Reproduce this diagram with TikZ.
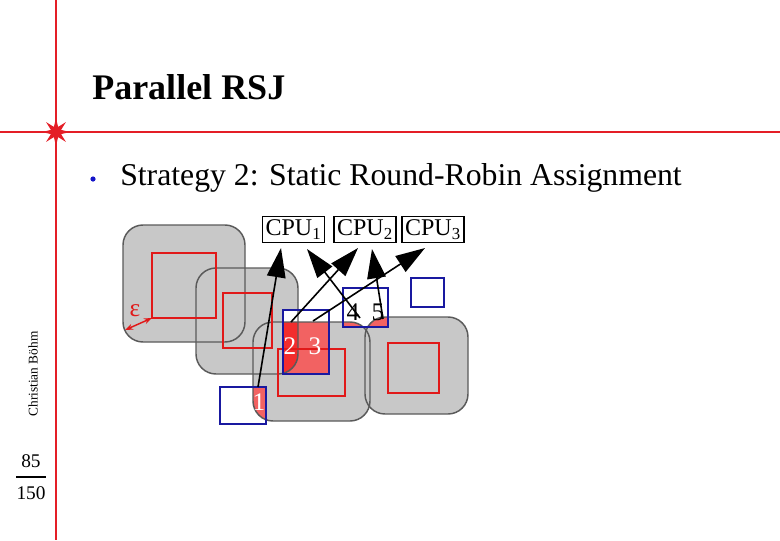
\documentclass[tikz,border=0pt]{standalone}
\usepackage{fontspec}
\setmainfont{Liberation Serif}
\usetikzlibrary{arrows.meta}
\definecolor{slidered}{RGB}{228,30,38}
\definecolor{boxgray}{RGB}{200,200,200}
\definecolor{edgegray}{RGB}{90,90,90}
\definecolor{sqred}{RGB}{225,25,25}
\definecolor{sqblue}{RGB}{25,25,160}
\definecolor{fillred}{RGB}{242,98,98}
\definecolor{darkfill}{RGB}{242,45,45}
\definecolor{bulletblue}{RGB}{20,20,200}
\tikzset{
  grayfill/.style={fill=boxgray, rounded corners=15pt},
  grayedge/.style={draw=edgegray, line width=1.1pt, rounded corners=15pt},
  redsq/.style={draw=sqred, line width=1.2pt},
  bluesq/.style={draw=sqblue, line width=1.5pt},
  cpubox/.style={draw=black, line width=1.1pt, minimum width=46.5pt, minimum height=19.5pt, inner sep=0pt, font=\fontsize{18}{18}\selectfont},
  assign/.style={line width=1.2pt, -{Triangle[length=22pt,width=14pt]}},
  numlbl/.style={inner sep=0pt, font=\fontsize{19}{19}\selectfont},
}
\begin{document}
\begin{tikzpicture}[x=0.75pt,y=-0.75pt]
\useasboundingbox (0,0) rectangle (780,540);
% slide frame
\draw[slidered, line width=2.2pt] (56,0) -- (56,540);
\draw[slidered, line width=2.2pt] (0,132) -- (780,132);
\fill[slidered, shift={(56,132)}] (90:14) -- (112.5:5.5) -- (135:14) -- (157.5:5.5) -- (180:14) -- (202.5:5.5) -- (225:14) -- (247.5:5.5) -- (270:14) -- (292.5:5.5) -- (315:14) -- (337.5:5.5) -- (0:14) -- (22.5:5.5) -- (45:14) -- (67.5:5.5) -- cycle;
% title and bullet
\node[anchor=base west, inner sep=0pt, font=\fontsize{27}{27}\selectfont\bfseries] (title) at (92,99) {Parallel RSJ};
\fill[bulletblue] (93,179) circle (2.6);
\node[anchor=base west, inner sep=0pt, font=\fontsize{23.8}{24}\selectfont] (strat) at (120,185) {Strategy 2: Static Round-Robin Assignment};
% footer
\node[rotate=90, inner sep=0pt, font=\fontsize{10}{10}\selectfont] (author) at (33,374) {Christian Böhm};
\node[inner sep=0pt, font=\fontsize{14.5}{14.5}\selectfont] (num) at (31,461) {85};
\node[inner sep=0pt, font=\fontsize{14.5}{14.5}\selectfont] (den) at (31,493) {150};
\draw[line width=1.1pt] (16,477) -- (46,477);
% gray regions
\fill[grayfill] (123,225) rectangle (245,342);
\fill[grayfill] (196,268) rectangle (298,374);
\fill[grayfill] (253,322) rectangle (370,421);
\fill[grayfill] (365,317) rectangle (468,414);
% blue squares interiors
\fill[white] (220,387) rectangle (266,424);
\fill[white] (283,310) rectangle (329,374);
\fill[white] (343,288) rectangle (388,327);
\fill[white] (411,278) rectangle (444,307);
% red fills = blue squares intersected with gray regions
\begin{scope}
  \clip (220,387) rectangle (266,424);
  \fill[fillred, rounded corners=15pt] (253,322) rectangle (370,421);
\end{scope}
\begin{scope}
  \clip (283,310) rectangle (329,374);
  \fill[fillred, rounded corners=15pt] (253,322) rectangle (370,421);
  \clip[rounded corners=15pt] (196,268) rectangle (298,374);
  \fill[darkfill, rounded corners=15pt] (253,322) rectangle (370,421);
\end{scope}
\begin{scope}
  \clip (343,288) rectangle (388,327);
  \fill[fillred, rounded corners=15pt] (253,322) rectangle (370,421);
  \fill[fillred, rounded corners=15pt] (365,317) rectangle (468,414);
\end{scope}
% gray edges
\draw[grayedge] (123,225) rectangle (245,342);
\draw[grayedge] (196,268) rectangle (298,374);
\draw[grayedge] (253,322) rectangle (370,421);
\draw[grayedge] (365,317) rectangle (468,414);
% red squares
\draw[redsq] (152,253) rectangle (216,318);
\draw[redsq] (223,293) rectangle (272,348);
\draw[redsq] (278,349) rectangle (345,396);
\draw[redsq] (388,343) rectangle (439,393);
% blue squares
\draw[bluesq] (220,387) rectangle (266,424);
\draw[bluesq] (283,310) rectangle (329,374);
\draw[bluesq] (343,288) rectangle (388,327);
\draw[bluesq] (411,278) rectangle (444,307);
% epsilon
\node[inner sep=0pt, text=sqred, font=\fontsize{19}{19}\selectfont] (eps) at (135,311) {ε};
\coordinate (epsA) at (125,330);
\coordinate (epsB) at (152,318);
\draw[sqred, line width=1.1pt, {Stealth[length=6pt,width=4.5pt]}-{Stealth[length=6pt,width=4.5pt]}] (epsA) -- (epsB);
% CPU boxes
\node[cpubox] (cpu1) at (293.5,229.5) {CPU\textsubscript{1}};
\node[cpubox] (cpu2) at (365,229.5) {CPU\textsubscript{2}};
\node[cpubox] (cpu3) at (433,229.5) {CPU\textsubscript{3}};
% arrow endpoints
\coordinate (s1) at (258,387);
\coordinate (s2) at (291,322);
\coordinate (s3) at (313,321);
\coordinate (s4) at (360,318);
\coordinate (s5) at (383,319);
\coordinate (t1) at (281,248);
\coordinate (t2) at (358,248);
\coordinate (t3) at (425,248);
\coordinate (t4) at (307,249);
\coordinate (t5) at (372,249);
\draw[assign] (s1) -- (t1);
\draw[assign] (s2) -- (t2);
\draw[assign] (s3) -- (t3);
\draw[assign] (s4) -- (t4);
\draw[assign] (s5) -- (t5);
% numbers
\node[numlbl, text=white] (n1) at (259,402) {1};
\node[numlbl, text=white] (n2) at (290,346) {2};
\node[numlbl, text=white] (n3) at (315,346) {3};
\node[numlbl] (n4) at (353,312) {4};
\node[numlbl] (n5) at (378,312) {5};
\end{tikzpicture}
\end{document}
